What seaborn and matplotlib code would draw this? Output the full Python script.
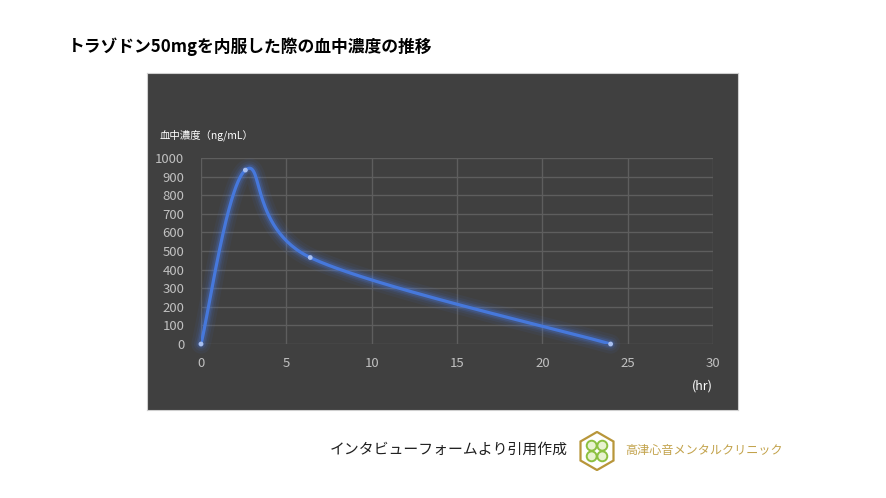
import numpy as np
import pandas as pd
import matplotlib
matplotlib.use('Agg')
import matplotlib.pyplot as plt
import seaborn as sns
from matplotlib.patches import RegularPolygon, Circle

# data
hours = [0, 2.6, 6.4, 24]
conc = [0, 935, 465, 0]
x_ticks = [0, 5, 10, 15, 20, 25, 30]
y_ticks = [0, 100, 200, 300, 400, 500, 600, 700, 800, 900, 1000]

title = 'トラゾドン50mgを内服した際の血中濃度の推移'
y_label = '血中濃度（ng/mL）'
x_label = '(hr)'
source = 'インタビューフォームより引用作成'
clinic = '高津心音メンタルクリニック'

sns.set_theme(style='dark')
plt.rcParams['font.family'] = ['Noto Sans CJK JP', 'DejaVu Sans']

W, H = 886, 498
fig = plt.figure(figsize=(W / 100, H / 100), dpi=100)
fig.patch.set_facecolor('white')


def fx(px):
    return px / W


def fy(py):
    return 1 - py / H


# dark panel behind the chart
bg = fig.add_axes([fx(147), fy(410), fx(738) - fx(147), fy(73) - fy(410)], zorder=0)
bg.set_facecolor('#404040')
bg.set_xticks([])
bg.set_yticks([])
for s in bg.spines.values():
    s.set_visible(True)
    s.set_color('#cfcfcf')
    s.set_linewidth(0.8)

ax = fig.add_axes([fx(201), fy(344), fx(713) - fx(201), fy(158) - fy(344)], zorder=1)
ax.patch.set_alpha(0)
ax.set_xlim(0, 30)
ax.set_ylim(0, 1000)


# Excel-style smoothed line (Catmull-Rom bezier in screen space)
def smooth(xs, ys, sx=17.07, sy=0.186, n=60):
    p = np.column_stack([np.array(xs) * sx, np.array(ys) * sy])
    pts = np.vstack([p[0], p, p[-1]])
    out = []
    for i in range(1, len(pts) - 2):
        p0, p1, p2, p3 = pts[i - 1], pts[i], pts[i + 1], pts[i + 2]
        b1 = p1 + (p2 - p0) / 6
        b2 = p2 - (p3 - p1) / 6
        t = np.linspace(0, 1, n)[:, None]
        seg = ((1 - t) ** 3) * p1 + 3 * ((1 - t) ** 2) * t * b1 + 3 * (1 - t) * t ** 2 * b2 + t ** 3 * p2
        out.append(seg)
    c = np.vstack(out)
    return c[:, 0] / sx, c[:, 1] / sy


sx_, sy_ = smooth(hours, conc)
curve = pd.DataFrame({'hr': sx_, 'conc': sy_})
pts = pd.DataFrame({'hr': hours, 'conc': conc})

# glow
for lw, a in [(14, 0.06), (10, 0.08), (7, 0.12), (5, 0.18)]:
    ax.plot(curve['hr'], curve['conc'], color='#4a7ff0', lw=lw, alpha=a,
            solid_capstyle='round', zorder=3, clip_on=False)
sns.lineplot(data=curve, x='hr', y='conc', sort=False, estimator=None,
             color='#4678dc', linewidth=2.3, ax=ax, zorder=4)
sns.scatterplot(data=pts, x='hr', y='conc', color='#a8bff0', s=12,
                edgecolor='none', ax=ax, zorder=5, clip_on=False)

ax.set_xticks(x_ticks)
ax.set_yticks(y_ticks)
ax.grid(True, color='#5e5e5e', linewidth=1)
ax.tick_params(colors='#c0c0c0', labelsize=9.5, length=0)
ax.tick_params(axis='y', pad=12)
ax.tick_params(axis='x', pad=9)
for s in ax.spines.values():
    s.set_visible(False)
ax.set_xlabel('')
ax.set_ylabel('')

fig.text(fx(160), fy(135), y_label, color='white', fontsize=7.5, va='center', ha='left')
fig.text(fx(713), fy(386), x_label, color='white', fontsize=9, va='center', ha='right')

fig.text(fx(68), fy(47), title, color='black', fontsize=12.1, fontweight='bold',
         va='center', ha='left')
fig.text(fx(330), fy(450), source, color='#202020', fontsize=10.7, va='center', ha='left')
fig.text(fx(625), fy(450), clinic, color='#c2a24a', fontsize=8.7, va='center', ha='left')

# logo
lax = fig.add_axes([fx(577), fy(471), fx(617) - fx(577), fy(431) - fy(471)])
lax.set_xlim(-1.05, 1.05)
lax.set_ylim(-1.05, 1.05)
lax.set_aspect('equal')
lax.axis('off')
lax.add_patch(RegularPolygon((0, 0), 6, radius=1.0, orientation=0,
                             facecolor='white', edgecolor='#b8963a', linewidth=1.6))
for dx, dy in [(-0.28, 0.28), (0.28, 0.28), (-0.28, -0.28), (0.28, -0.28)]:
    lax.add_patch(Circle((dx, dy), 0.26, facecolor='#e8f2d0', edgecolor='#8cc040', linewidth=1.4))

fig.savefig('out.png', dpi=100, facecolor='white')
